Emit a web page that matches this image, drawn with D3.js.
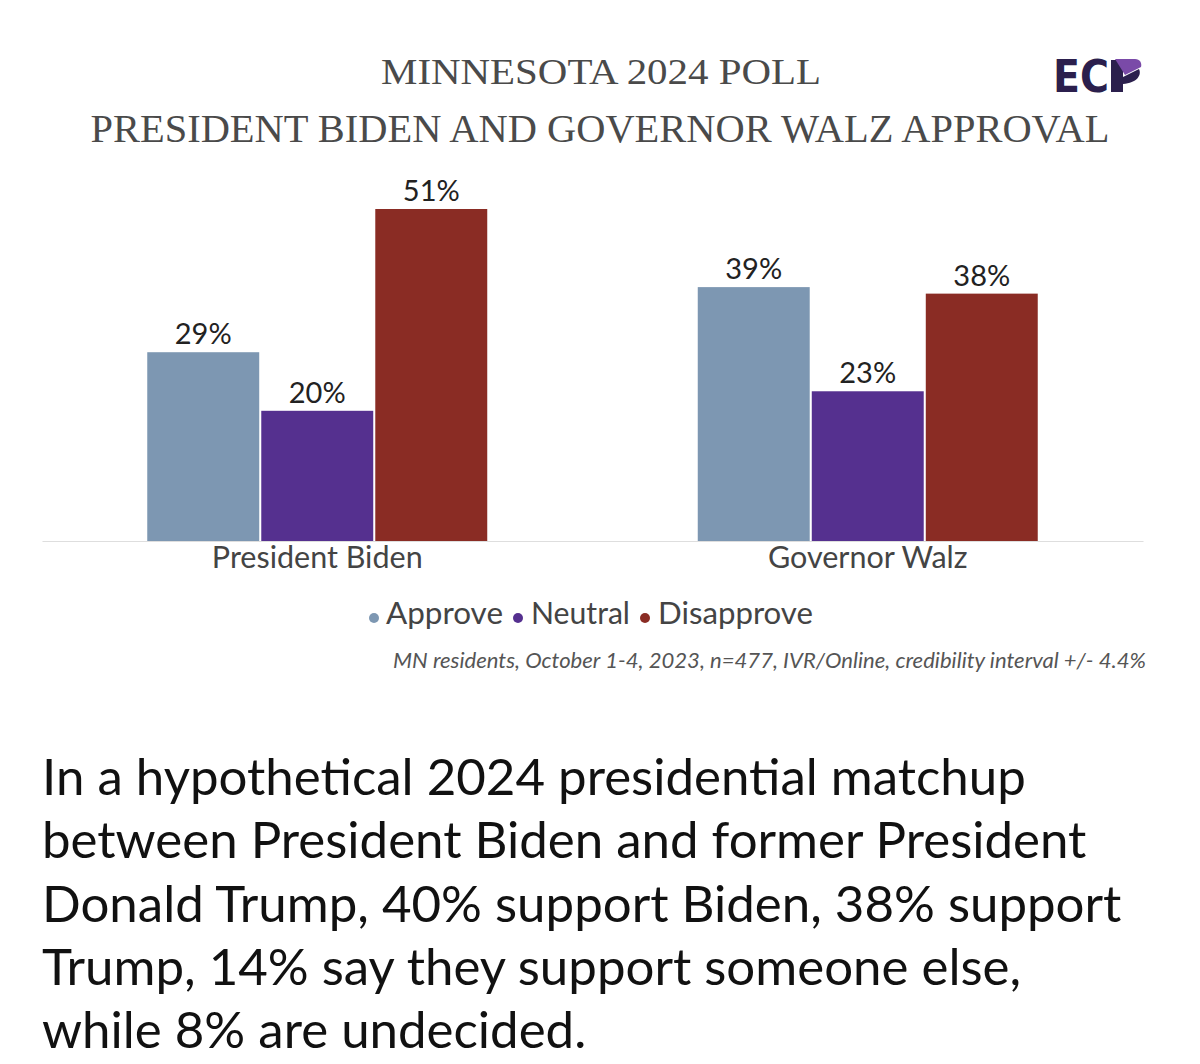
<!DOCTYPE html>
<html>
<head>
<meta charset="utf-8">
<script src="https://cdn.jsdelivr.net/npm/d3@7"></script>
<style>
  body { margin: 0; background: #fff; }
  svg { display: block; }
</style>
</head>
<body>
<div id="chart"></div>
<script>
(function () {
	'use strict';

	var categories = ["President Biden", "Governor Walz"];
	var seriesNames = ["Approve", "Neutral", "Disapprove"];
	var approve = [29, 39];
	var neutral = [20, 23];
	var disapprove = [51, 38];
	var seriesColors = ["#7d97b2", "#55308f", "#8a2c24"];

	var titleLines = ["MINNESOTA 2024 POLL", "PRESIDENT BIDEN AND GOVERNOR WALZ APPROVAL"];
	var footnote = "MN residents, October 1-4, 2023, n=477, IVR/Online, credibility interval +/- 4.4%";
	var bodyLines = [
		"In a hypothetical 2024 presidential matchup",
		"between President Biden and former President",
		"Donald Trump, 40% support Biden, 38% support",
		"Trump, 14% say they support someone else,",
		"while 8% are undecided."
	];

	var width = 1200, height = 1064;
	var sans = "Lato, 'Noto Sans', sans-serif";

	var svg = d3.select("#chart").append("svg")
		.attr("width", width)
		.attr("height", height)
		.style("background", "#fff");

	// title
	svg.append("text")
		.attr("x", 601).attr("y", 84)
		.attr("text-anchor", "middle")
		.attr("font-family", "'Liberation Serif', 'DejaVu Serif', serif")
		.attr("font-size", 36)
		.attr("fill", "#4a4a4a")
		.attr("textLength", 440)
		.attr("lengthAdjust", "spacingAndGlyphs")
		.text(titleLines[0]);
	svg.append("text")
		.attr("x", 600).attr("y", 142)
		.attr("text-anchor", "middle")
		.attr("font-family", "'Liberation Serif', 'DejaVu Serif', serif")
		.attr("font-size", 40)
		.attr("fill", "#4a4a4a")
		.attr("textLength", 1019)
		.attr("lengthAdjust", "spacingAndGlyphs")
		.text(titleLines[1]);

	// ECP logo
	var logo = svg.append("g").attr("transform", "translate(1053,55)");
	logo.append("text")
		.attr("x", 0).attr("y", 37)
		.attr("font-family", "'DejaVu Sans', sans-serif")
		.attr("font-weight", "bold")
		.attr("font-size", 44)
		.attr("fill", "#2b1f4d")
		.attr("textLength", 56)
		.attr("lengthAdjust", "spacingAndGlyphs")
		.text("EC");
	logo.append("path")
		.attr("d", "M58,5 L70,5 L70,37 L58,37 Z M70,22 L86,14 C89,20 84,28 70,29 Z")
		.attr("fill", "#2b1f4d");
	logo.append("path")
		.attr("d", "M62,4 L82,4 C87,4 89,8 88,12 L72,20 Z")
		.attr("fill", "#7a4aa8");

	// chart
	var margin = { left: 42, right: 1143, base: 541 };
	var data = categories.map(function (c, i) {
		return { category: c, values: [approve[i], neutral[i], disapprove[i]] };
	});

	var x0 = d3.scaleBand()
		.domain(categories)
		.range([margin.left, margin.right])
		.paddingInner(0.3824)
		.paddingOuter(0.1912);

	var x1 = d3.scaleBand()
		.domain(seriesNames)
		.range([0, x0.bandwidth()])
		.paddingInner(0.018);

	var y = d3.scaleLinear()
		.domain([0, 51])
		.range([margin.base, 209]);

	var color = d3.scaleOrdinal().domain(seriesNames).range(seriesColors);

	var groups = svg.selectAll("g.barGroup")
		.data(data)
		.enter()
		.append("g")
		.attr("class", "barGroup")
		.attr("transform", function (d) { return "translate(" + x0(d.category) + ",0)"; });

	var bars = groups.selectAll("g.bar")
		.data(function (d) {
			return seriesNames.map(function (s, j) { return { key: s, value: d.values[j] }; });
		})
		.enter()
		.append("g")
		.attr("class", "bar");

	bars.append("rect")
		.attr("x", function (d) { return x1(d.key); })
		.attr("y", function (d) { return y(d.value); })
		.attr("width", x1.bandwidth())
		.attr("height", function (d) { return y(0) - y(d.value); })
		.attr("fill", function (d) { return color(d.key); });

	bars.append("text")
		.attr("x", function (d) { return x1(d.key) + x1.bandwidth() / 2; })
		.attr("y", function (d) { return y(d.value) - 8; })
		.attr("text-anchor", "middle")
		.attr("font-family", sans)
		.attr("font-size", 29)
		.attr("fill", "#222")
		.text(function (d) { return d.value + "%"; });

	// baseline axis
	var xAxis = svg.append("g")
		.attr("transform", "translate(0," + margin.base + ")")
		.call(d3.axisBottom(x0).tickSize(0).tickPadding(5));
	xAxis.select(".domain").attr("stroke", "#dedede").attr("stroke-width", 1.2);
	xAxis.selectAll(".tick text")
		.attr("font-family", sans)
		.attr("font-size", 30.5)
		.attr("fill", "#444");

	// legend
	var legendItems = [
		{ key: "Approve", dot: 374, tx: 386, w: 117 },
		{ key: "Neutral", dot: 518, tx: 531, w: 99 },
		{ key: "Disapprove", dot: 645, tx: 658, w: 155 }
	];
	var legend = svg.append("g").attr("class", "legend");
	legend.selectAll("circle")
		.data(legendItems)
		.enter()
		.append("circle")
		.attr("cx", function (d) { return d.dot; })
		.attr("cy", 618)
		.attr("r", 5)
		.attr("fill", function (d) { return color(d.key); });
	legend.selectAll("text")
		.data(legendItems)
		.enter()
		.append("text")
		.attr("x", function (d) { return d.tx; })
		.attr("y", 624)
		.attr("font-family", sans)
		.attr("font-size", 30.5)
		.attr("fill", "#444")
		.attr("textLength", function (d) { return d.w; })
		.attr("lengthAdjust", "spacingAndGlyphs")
		.text(function (d) { return d.key; });

	// footnote
	svg.append("text")
		.attr("x", 1146).attr("y", 668)
		.attr("text-anchor", "end")
		.attr("font-family", sans)
		.attr("font-style", "italic")
		.attr("font-size", 21)
		.attr("fill", "#555")
		.attr("textLength", 753)
		.attr("lengthAdjust", "spacingAndGlyphs")
		.text(footnote);

	// paragraph
	svg.append("g").selectAll("text")
		.data(bodyLines)
		.enter()
		.append("text")
		.attr("x", 42)
		.attr("y", function (d, i) { return 795 + i * 63.3; })
		.attr("font-family", sans)
		.attr("font-size", 51)
		.attr("fill", "#111")
		.text(function (d) { return d; });
})();
</script>
</body>
</html>
